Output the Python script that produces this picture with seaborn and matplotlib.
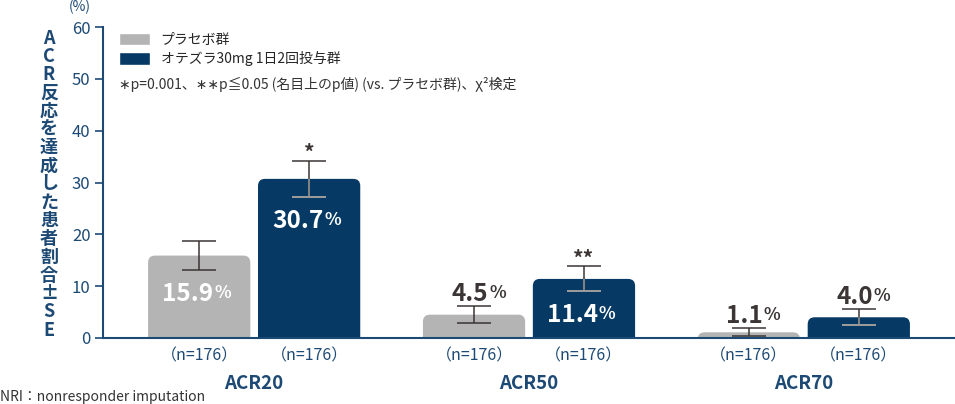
import matplotlib
matplotlib.use("Agg")
import matplotlib.pyplot as plt
import matplotlib.transforms as mtransforms
from matplotlib.patches import FancyBboxPatch
import pandas as pd
import seaborn as sns

# data
endpoints = ["ACR20", "ACR50", "ACR70"]
groups = ["プラセボ群", "オテズラ30mg 1日2回投与群"]
placebo = [15.9, 4.5, 1.1]
otezla = [30.7, 11.4, 4.0]
placebo_se = [2.8, 1.6, 0.8]
otezla_se = [3.5, 2.4, 1.5]
n_labels = ["（n=176）"] * 6
stars = ["*", "**", ""]
y_ticks = [0, 10, 20, 30, 40, 50, 60]

GRAY = "#b4b4b4"
NAVY = "#063a64"
AXIS = "#1d4a74"
TXT = "#3b3535"

sns.set_theme(style="white")
plt.rcParams["font.family"] = ["Noto Sans CJK JP", "DejaVu Sans"]

df = pd.DataFrame({
    "endpoint": endpoints * 2,
    "group": [groups[0]] * 3 + [groups[1]] * 3,
    "value": placebo + otezla,
})

fig = plt.figure(figsize=(9.55, 4.04), dpi=100)
ax = fig.add_axes([103 / 955, 1 - 338 / 404, 1 - 103 / 955, 311 / 404])

sns.barplot(data=df, x="endpoint", y="value", hue="group", order=endpoints,
            hue_order=groups, palette=[GRAY, NAVY], width=0.8, gap=0.07,
            saturation=1, ax=ax, legend=True)

ax.set_ylim(0, 60)
ax.set_xlim(-0.55, 2.55)

# bars in hue order: placebo x3, then otezla x3
bars = list(ax.patches)[:6]
values = placebo + otezla
ses = placebo_se + otezla_se

# rounded tops
px_x = 852 / (ax.get_xlim()[1] - ax.get_xlim()[0])
px_y = 311 / 60
r_px = 7
new_bars = []
for b in bars:
    x, w, h = b.get_x(), b.get_width(), b.get_height()
    rx = r_px / px_x
    ry = r_px / px_y
    fb = FancyBboxPatch((x, -2 * ry), w, h + 2 * ry,
                        boxstyle=f"round,pad=0,rounding_size={rx}",
                        mutation_aspect=ry / rx,
                        facecolor=b.get_facecolor(), edgecolor="none", zorder=2)
    b.set_visible(False)
    ax.add_patch(fb)
    new_bars.append(fb)

centers = [b.get_x() + b.get_width() / 2 for b in bars]

# error bars
for i, (cx, v, se) in enumerate(zip(centers, values, ses)):
    eb = ax.errorbar(cx, v, yerr=se, fmt="none", ecolor=TXT, elinewidth=1.1,
                     capsize=12, capthick=1.1, zorder=3)
    if i >= 3:
        eb2 = ax.errorbar(cx, v, yerr=se, fmt="none", ecolor="#9a9a9a",
                          elinewidth=1.1, capsize=12, capthick=1.1, zorder=4)
        for art in list(eb2.lines[1]) + list(eb2.lines[2]):
            art.set_clip_path(new_bars[i])

# value labels: number + smaller "%"
inside = [True, False, False, True, True, False]
for i, (cx, v, se) in enumerate(zip(centers, values, ses)):
    if inside[i]:
        y, off, col = v - se, -21, "white"
    else:
        y, off, col = v + se, 15, TXT
    ax.annotate(f"{v:.1f}", (cx, y), xytext=(14, off), textcoords="offset pixels",
                ha="right", va="center_baseline", fontsize=17.5,
                fontweight="bold", color=col, zorder=5)
    ax.annotate("%", (cx, y), xytext=(15, off), textcoords="offset pixels",
                ha="left", va="center_baseline", fontsize=12.5,
                fontweight="bold", color=col, zorder=5)

# significance stars
for i, s in enumerate(stars):
    if s:
        cx = centers[3 + i]
        ax.annotate(s, (cx, otezla[i] + otezla_se[i]), xytext=(0, -3),
                    textcoords="offset pixels", ha="center", va="bottom",
                    fontsize=15, fontweight="bold", color=TXT)

# x labels
ax.set_xticks(centers)
ax.set_xticklabels(n_labels, fontsize=11.5, color=AXIS)
ax.tick_params(axis="x", length=0, pad=7)
ax.set_xlabel("")
trans = mtransforms.blended_transform_factory(ax.transData, ax.transAxes)
for i, e in enumerate(endpoints):
    ax.text(i, -0.145, e, transform=trans, ha="center", va="center",
            fontsize=13.5, fontweight="bold", color=AXIS)

# y axis
ax.set_yticks(y_ticks)
ax.set_yticklabels([str(t) for t in y_ticks], fontsize=12, color=AXIS)
ax.tick_params(axis="y", length=6, width=1.2, color=AXIS, pad=3, left=True)
ax.set_ylabel("")
for s in ["top", "right"]:
    ax.spines[s].set_visible(False)
for s in ["left", "bottom"]:
    ax.spines[s].set_color(AXIS)
    ax.spines[s].set_linewidth(1.5)
    ax.spines[s].set_zorder(6)

label = "ACR反応を達成した患者割合±SE"
fig.text(49 / 955, 1 - 184 / 404, "\n".join(label), ha="center", va="center",
         fontsize=13, fontweight="bold", color=AXIS, linespacing=0.95)
fig.text(80 / 955, 1 - 7 / 404, "(%)", ha="center", va="center",
         fontsize=10, color=AXIS)

# legend
ax.legend(loc="upper left", bbox_to_anchor=(119 / 955, 1 - 33 / 404),
          bbox_transform=fig.transFigure, frameon=False, fontsize=10,
          handlelength=2.2, handleheight=1.0, handletextpad=0.8,
          labelspacing=0.3, borderpad=0, borderaxespad=0)
fig.text(119 / 955, 1 - 84 / 404,
         "∗p=0.001、∗∗p≦0.05 (名目上のp値) (vs. プラセボ群)、χ²検定",
         ha="left", va="center", fontsize=10, color="#333333")

fig.text(0, 1 - 397 / 404, "NRI：nonresponder imputation", ha="left",
         va="center", fontsize=10, color="#333333")

fig.savefig("out.png", dpi=100)
